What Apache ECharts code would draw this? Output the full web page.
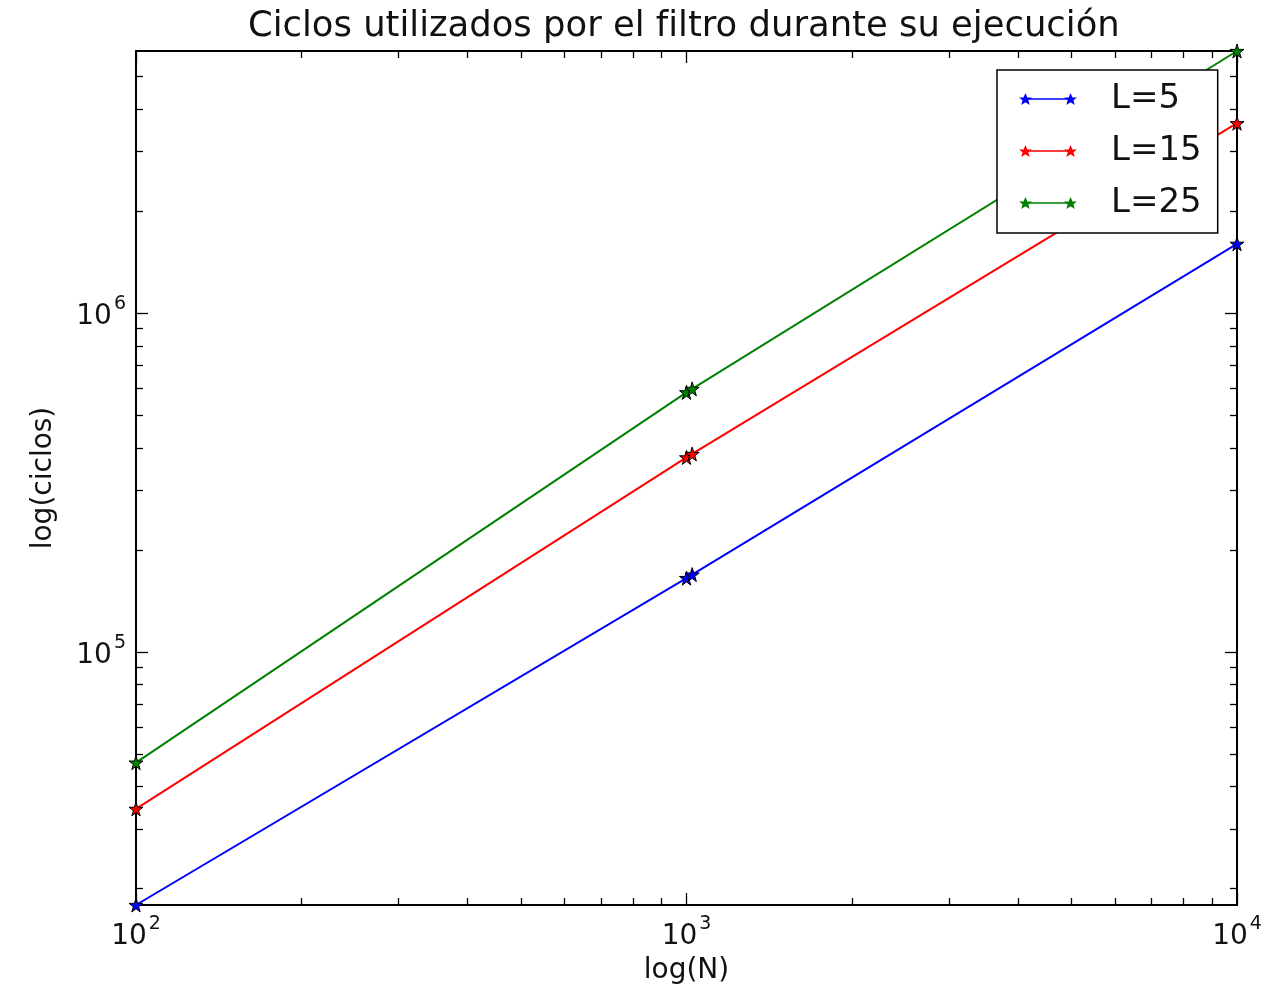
<!DOCTYPE html>
<html lang="es">
<head>
  <meta charset="UTF-8">
  <title>Ciclos utilizados por el filtro</title>
  <script src="https://cdn.jsdelivr.net/npm/echarts@6/dist/echarts.min.js"></script>
  <style>
    html, body { margin: 0; padding: 0; background: #fff; }
    #chart { width: 1265px; height: 997px; }
  </style>
</head>
<body>
  <div id="chart"></div>
  <script>
    // datos
    const sizesN = [100, 1000, 1024, 10000];
    const ciclosL5 = [17900, 165000, 169000, 1600000];
    const ciclosL15 = [34400, 374700, 383600, 3630000];
    const ciclosL25 = [47100, 583000, 597000, 5930000];

    const seriesNames = ['L=5', 'L=15', 'L=25'];
    const seriesColors = ['#0000ff', '#ff0000', '#008000'];

    const xMajor = [100, 1000, 10000];
    const xMinor = [200, 300, 400, 500, 600, 700, 800, 900, 2000, 3000, 4000, 5000, 6000, 7000, 8000, 9000];
    const yMajor = [100000, 1000000];
    const yMinor = [20000, 30000, 40000, 50000, 60000, 70000, 80000, 90000,
      200000, 300000, 400000, 500000, 600000, 700000, 800000, 900000,
      2000000, 3000000, 4000000, 5000000];

    const xMin = Math.min(...sizesN), xMax = Math.max(...sizesN);
    const yMin = Math.min(...ciclosL5), yMax = Math.max(...ciclosL25);

    const star = 'path://M50,0 L61,35 L98,35 L68,57 L79,91 L50,70 L21,91 L32,57 L2,35 L39,35 Z';
    // icono de leyenda: linea con una estrella en cada extremo
    const legendIcon = 'path://M20,0 L26,14 L40,14 L29,23 L33,38 L20,29 L7,38 L11,23 L0,14 L14,14 Z ' +
      'M160,0 L166,14 L180,14 L169,23 L173,38 L160,29 L147,38 L151,23 L140,14 L154,14 Z ' +
      'M20,17 L160,17 L160,21 L20,21 Z';

    const font = 'DejaVu Sans';

    function powLabel(v) {
      const e = Math.log10(v);
      const r = Math.round(e);
      if (Math.abs(e - r) > 1e-6) return '';
      return '{b|10}{s|' + r + '}';
    }
    const labelRich = {
      b: { fontFamily: font, fontSize: 28, color: '#111', lineHeight: 36, verticalAlign: 'bottom' },
      s: { fontFamily: font, fontSize: 19, color: '#111', lineHeight: 20, verticalAlign: 'top', padding: [0, 0, 0, 2] }
    };

    const frameLine = { show: true, lineStyle: { color: '#000', width: 2 } };

    function xAxisDef(pos, ticks, len, labels) {
      return {
        type: 'log', logBase: 10, min: xMin, max: xMax, position: pos,
        axisLine: frameLine,
        axisTick: { show: true, inside: true, length: len, customValues: ticks, lineStyle: { color: '#000', width: 1.3 } },
        axisLabel: labels ? {
          show: true, margin: 10, customValues: ticks, formatter: powLabel, rich: labelRich
        } : { show: false },
        splitLine: { show: false },
        minorTick: { show: false }
      };
    }
    function yAxisDef(pos, ticks, len, labels) {
      return {
        type: 'log', logBase: 10, min: yMin, max: yMax, position: pos,
        axisLine: frameLine,
        axisTick: { show: true, inside: true, length: len, customValues: ticks, lineStyle: { color: '#000', width: 1.3 } },
        axisLabel: labels ? {
          show: true, margin: 10, customValues: ticks, formatter: powLabel, rich: labelRich
        } : { show: false },
        splitLine: { show: false },
        minorTick: { show: false }
      };
    }

    const xMain = xAxisDef('bottom', xMajor, 12, true);
    xMain.name = 'log(N)';
    xMain.nameLocation = 'middle';
    xMain.nameGap = 52;
    xMain.nameTextStyle = { fontFamily: font, fontSize: 28, color: '#111' };

    const yMain = yAxisDef('left', yMajor, 12, true);
    yMain.name = 'log(ciclos)';
    yMain.nameLocation = 'middle';
    yMain.nameGap = 78;
    yMain.nameTextStyle = { fontFamily: font, fontSize: 28, color: '#111' };

    const lists = [ciclosL5, ciclosL15, ciclosL25];
    const series = lists.map((vals, i) => ({
      name: seriesNames[i],
      type: 'line',
      xAxisIndex: 0,
      yAxisIndex: 0,
      data: sizesN.map((n, j) => [n, vals[j]]),
      symbol: star,
      symbolSize: 14,
      showAllSymbol: true,
      clip: true,
      lineStyle: { color: seriesColors[i], width: 2 },
      itemStyle: { color: seriesColors[i], borderColor: '#000', borderWidth: 1 },
      emphasis: { disabled: true }
    }));

    const chart = echarts.init(document.getElementById('chart'), null, { renderer: 'canvas' });
    chart.setOption({
      animation: false,
      backgroundColor: '#fff',
      title: {
        text: 'Ciclos utilizados por el filtro durante su ejecución',
        left: 243,
        top: 4,
        textStyle: { fontFamily: font, fontSize: 35.4, fontWeight: 'normal', color: '#111' }
      },
      grid: { left: 136, right: 28, top: 51, bottom: 92, containLabel: false },
      legend: {
        orient: 'vertical',
        left: 997,
        top: 70,
        padding: [9, 16, 10, 22],
        itemGap: 12,
        itemWidth: 58,
        itemHeight: 13,
        icon: legendIcon,
        backgroundColor: '#fff',
        borderColor: '#000',
        borderWidth: 1.5,
        borderRadius: 0,
        itemStyle: { borderWidth: 0 },
        textStyle: { fontFamily: font, fontSize: 34, color: '#111', lineHeight: 40, padding: [0, 0, 0, 29] },
        data: seriesNames
      },
      xAxis: [
        xMain,
        xAxisDef('top', xMajor, 12, false),
        xAxisDef('bottom', xMinor, 7, false),
        xAxisDef('top', xMinor, 7, false)
      ],
      yAxis: [
        yMain,
        yAxisDef('right', yMajor, 12, false),
        yAxisDef('left', yMinor, 7, false),
        yAxisDef('right', yMinor, 7, false)
      ],
      series: series
    });
  </script>
</body>
</html>
